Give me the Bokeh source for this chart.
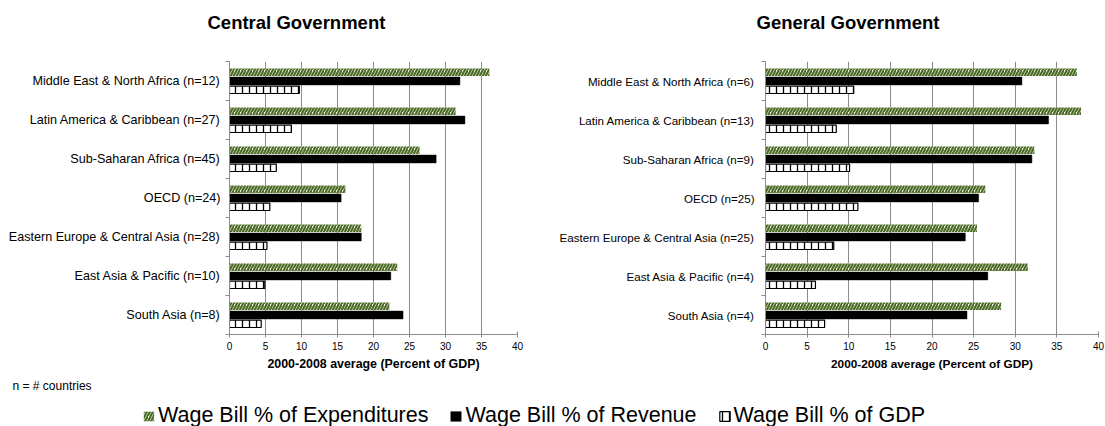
from bokeh.plotting import figure
from bokeh.models import (Range1d, FixedTicker, Legend, LegendItem, Label,
                          ColumnDataSource)
from bokeh.transform import dodge
from bokeh.layouts import column, row
from bokeh.embed import file_html
from bokeh.resources import INLINE

# ---------------- data ----------------
central_regions = ["Middle East & North Africa (n=12)", "Latin America & Caribbean (n=27)",
                   "Sub-Saharan Africa (n=45)", "OECD (n=24)",
                   "Eastern Europe & Central Asia (n=28)", "East Asia & Pacific (n=10)",
                   "South Asia (n=8)"]
central_exp = [36.1, 31.4, 26.4, 16.1, 18.3, 23.3, 22.2]
central_rev = [32.0, 32.7, 28.7, 15.5, 18.3, 22.4, 24.1]
central_gdp = [9.7, 8.6, 6.5, 5.6, 5.2, 4.9, 4.4]

general_regions = ["Middle East & North Africa (n=6)", "Latin America & Caribbean (n=13)",
                   "Sub-Saharan Africa (n=9)", "OECD (n=25)",
                   "Eastern Europe & Central Asia (n=25)", "East Asia & Pacific (n=4)",
                   "South Asia (n=4)"]
general_exp = [37.4, 37.9, 32.3, 26.4, 25.4, 31.5, 28.3]
general_rev = [30.8, 34.0, 32.0, 25.6, 24.0, 26.7, 24.2]
general_gdp = [10.6, 8.5, 10.1, 11.1, 8.2, 6.0, 7.1]

x_ticks = [0, 5, 10, 15, 20, 25, 30, 35, 40]
panel_titles = ["Central Government", "General Government"]
series_names = ["Wage Bill % of Expenditures", "Wage Bill % of Revenue", "Wage Bill % of GDP"]
axis_title = "2000-2008 average (Percent of GDP)"
note = "n = # countries"

FONT = "Liberation Sans"
GREEN = "#4c6c24"
GRID = "#8c8c8c"


def strip(width, height):
    s = figure(width=width, height=height, x_range=Range1d(0, 1), y_range=Range1d(100, 101),
               output_backend="svg", toolbar_location=None, x_axis_location=None,
               y_axis_location=None, min_border=0)
    s.outline_line_color = None
    s.grid.visible = False
    return s


def draw_bars(p, src):
    r_exp = p.hbar(y=dodge("y", -0.225), left=0, right="exp", height=0.19, source=src,
                   fill_color="white", line_color=None, hatch_pattern="/",
                   hatch_color=GREEN, hatch_weight=2.2, hatch_scale=6)
    r_rev = p.hbar(y=dodge("y", 0.0), left=0, right="rev", height=0.2, source=src,
                   fill_color="black", line_color="black", line_width=0.5)
    r_gdp = p.hbar(y=dodge("y", 0.225), left=0, right="gdp", height=0.19, source=src,
                   fill_color="white", line_color="black", line_width=1.2,
                   hatch_pattern="|", hatch_color="black", hatch_weight=1.3, hatch_scale=7)
    return r_exp, r_rev, r_gdp


def panel(cats, exp, rev, gdp, width, height, bl, br, bt, bb,
          label_px, label_standoff, axis_title_px):
    n = len(cats)
    idx = list(range(n))
    p = figure(width=width, height=height, x_range=Range1d(0, 40),
               y_range=Range1d(n - 0.5, -0.5), output_backend="svg",
               toolbar_location=None, min_border_left=bl, min_border_right=br,
               min_border_top=bt, min_border_bottom=bb)
    src = ColumnDataSource(dict(y=idx, exp=exp, rev=rev, gdp=gdp))
    draw_bars(p, src)
    p.outline_line_color = None

    yax = p.yaxis[0]
    yax.ticker = FixedTicker(ticks=idx, minor_ticks=[i - 0.5 for i in range(n + 1)])
    yax.major_label_overrides = {i: c for i, c in zip(idx, cats)}
    yax.major_tick_out = 0
    yax.major_tick_in = 0
    yax.minor_tick_out = 4
    yax.minor_tick_in = 0
    yax.minor_tick_line_color = GRID
    yax.axis_line_color = GRID
    yax.major_label_text_font = FONT
    yax.major_label_text_font_size = label_px
    yax.major_label_text_color = "black"
    yax.major_label_standoff = label_standoff

    xax = p.xaxis[0]
    xax.ticker = FixedTicker(ticks=x_ticks, minor_ticks=[])
    xax.major_tick_in = 3
    xax.major_tick_out = 3
    xax.major_tick_line_color = GRID
    xax.axis_line_color = GRID
    xax.major_label_text_font = FONT
    xax.major_label_text_font_size = "10px"
    xax.major_label_text_color = "black"
    xax.major_label_standoff = 4
    xax.axis_label = axis_title
    xax.axis_label_text_font = FONT
    xax.axis_label_text_font_size = axis_title_px
    xax.axis_label_text_font_style = "bold"
    xax.axis_label_text_color = "black"
    xax.axis_label_standoff = 4

    p.xgrid.ticker = FixedTicker(ticks=x_ticks, minor_ticks=[])
    p.xgrid.grid_line_color = GRID
    p.ygrid.grid_line_color = None
    return p


# ---------------- titles strip ----------------
TOP = 40
t = strip(1105, TOP)
for tx, txt in zip([207, 756], panel_titles):
    t.add_layout(Label(x=tx, y=TOP - 22, x_units="screen", y_units="screen", text=txt,
                       text_font=FONT, text_font_size="18.5px", text_font_style="bold",
                       text_baseline="middle", text_color="black"))

p1 = panel(central_regions, central_exp, central_rev, central_gdp,
           548, 374 - TOP, 229, 31, 61 - TOP, 40, "12.6px", 5, "12.4px")
p2 = panel(general_regions, general_exp, general_rev, general_gdp,
           557, 374 - TOP, 217, 7, 55 - TOP, 40, "11.6px", 7, "11.8px")

# ---------------- legend strip ----------------
p3 = strip(1105, 52)
leg_src = ColumnDataSource(dict(y=list(range(len(central_exp))), exp=central_exp,
                                rev=central_rev, gdp=central_gdp))
r1, r2, r3 = draw_bars(p3, leg_src)
legend = Legend(items=[LegendItem(label=series_names[0], renderers=[r1]),
                       LegendItem(label=series_names[1], renderers=[r2]),
                       LegendItem(label=series_names[2], renderers=[r3])],
                orientation="horizontal", location=(142, -2), padding=0, margin=0,
                spacing=21, label_standoff=3, glyph_width=13, glyph_height=12,
                label_text_font=FONT, label_text_font_size="21.5px",
                label_text_color="black", border_line_color=None,
                background_fill_alpha=0)
p3.add_layout(legend, "center")
p3.add_layout(Label(x=12, y=41, x_units="screen", y_units="screen", text=note,
                    text_font=FONT, text_font_size="12px", text_baseline="middle",
                    text_color="black"))

layout = column(t, row(p1, p2), p3)
open("out.html", "w").write(file_html(layout, INLINE))
